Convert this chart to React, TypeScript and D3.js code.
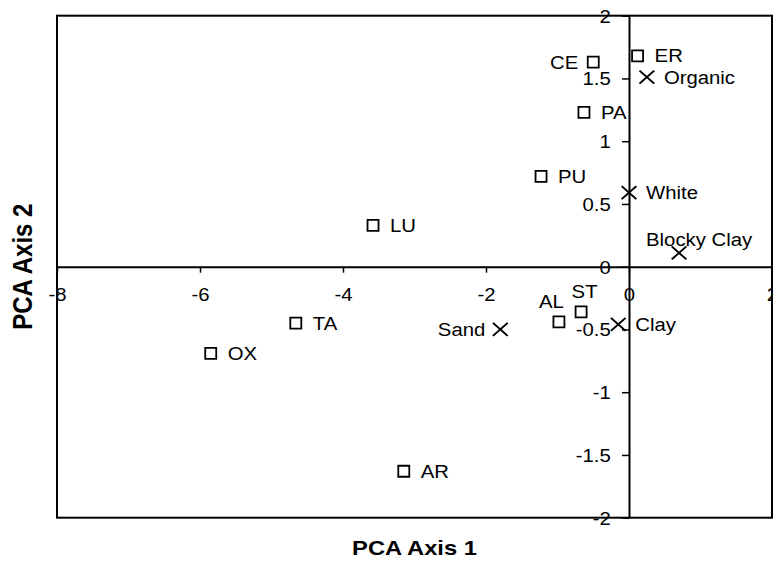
import { useRef, useEffect } from "react";
import * as d3 from "d3";

// sites (open squares)
const siteNames = ["ER", "CE", "PA", "PU", "LU", "TA", "OX", "AR", "AL", "ST"];
const siteX = [0.12, -0.5, -0.63, -1.23, -3.58, -4.66, -5.85, -3.15, -0.98, -0.67];
const siteY = [1.68, 1.63, 1.23, 0.72, 0.33, -0.45, -0.69, -1.63, -0.44, -0.36];

// soil variables (crosses)
const soilNames = ["Organic", "White", "Blocky Clay", "Sand", "Clay"];
const soilX = [0.25, 0.0, 0.7, -1.8, -0.15];
const soilY = [1.51, 0.59, 0.11, -0.5, -0.46];

const xTicks = [-8, -6, -4, -2, 0, 2];
const yTicks = [-2, -1.5, -1, -0.5, 0, 0.5, 1, 1.5, 2];

const W = 773;
const H = 569;
const SX = 1.13; // the original is a little wider than tall
const FONT = "'Liberation Sans', Arial, sans-serif";

export default function App() {
  const svgRef = useRef<SVGSVGElement>(null);

  useEffect(() => {
    if (!svgRef.current) return;
    const svg = d3.select(svgRef.current);
    svg.selectAll("*").remove();

    const x = d3.scaleLinear().domain([-8, 2]).range([57, 772]);
    const y = d3.scaleLinear().domain([-2, 2]).range([517.7, 15.7]);

    // frame
    svg.append("rect")
      .attr("x", x(-8)).attr("y", y(2))
      .attr("width", x(2) - x(-8)).attr("height", y(-2) - y(2))
      .attr("fill", "none").attr("stroke", "#000").attr("stroke-width", 2);

    // axes through the origin
    const gx = svg.append("g")
      .attr("transform", `translate(0,${y(0)})`)
      .call(d3.axisBottom(x).tickValues(xTicks).tickSize(6).tickSizeOuter(0).tickFormat((d) => String(d)));
    gx.selectAll("text")
      .attr("y", 22).attr("dy", "0.71em")
      .attr("transform", `scale(${SX},1)`);

    const gy = svg.append("g")
      .attr("transform", `translate(${x(0)},0)`)
      .call(d3.axisLeft(y).tickValues(yTicks).tickSize(7).tickSizeOuter(0).tickFormat((d) => String(d)));
    gy.selectAll("text")
      .attr("x", -16.2).attr("dy", "0.36em")
      .attr("transform", `scale(${SX},1)`);

    svg.selectAll(".domain").attr("stroke", "#000").attr("stroke-width", 2);
    svg.selectAll(".tick line").attr("stroke", "#000").attr("stroke-width", 1.5);
    svg.selectAll(".tick text")
      .attr("fill", "#000").attr("font-size", 18).attr("font-family", FONT);

    const label = (text: string, px: number, py: number, anchor: string) =>
      svg.append("text")
        .attr("transform", `translate(${px},${py}) scale(${SX},1)`)
        .attr("text-anchor", anchor)
        .attr("font-family", FONT).attr("font-size", 18).attr("fill", "#000")
        .text(text);

    const place = (name: string, px: number, py: number) => {
      if (name === "CE" || name === "Sand") label(name, px - 15, py + 6.4, "end");
      else if (name === "AL") label(name, px + 5, py - 14, "end");
      else if (name === "ST") label(name, px + 3.5, py - 14, "middle");
      else if (name === "Blocky Clay") label(name, px - 33, py - 6.5, "start");
      else label(name, px + 17, py + 6.4, "start");
    };

    const square = d3.symbol(d3.symbolSquare, 121);
    siteNames.forEach((name, i) => {
      const px = x(siteX[i]);
      const py = y(siteY[i]);
      svg.append("path")
        .attr("d", square())
        .attr("transform", `translate(${px},${py})`)
        .attr("fill", "none").attr("stroke", "#000").attr("stroke-width", 1.8);
      place(name, px, py);
    });

    const cross = d3.symbol(d3.symbolX, 112);
    soilNames.forEach((name, i) => {
      const px = x(soilX[i]);
      const py = y(soilY[i]);
      svg.append("path")
        .attr("d", cross())
        .attr("transform", `translate(${px},${py}) scale(${SX},1)`)
        .attr("fill", "none").attr("stroke", "#000").attr("stroke-width", 1.8);
      place(name, px, py);
    });

    // axis titles
    svg.append("text")
      .attr("transform", `translate(${(x(-8) + x(2)) / 2},555) scale(${SX},1)`)
      .attr("text-anchor", "middle")
      .attr("font-family", FONT).attr("font-weight", "bold").attr("font-size", 21)
      .text("PCA Axis 1");

    svg.append("text")
      .attr("transform", `translate(32,${(y(-2) + y(2)) / 2}) scale(${SX},1) rotate(-90)`)
      .attr("text-anchor", "middle")
      .attr("font-family", FONT).attr("font-weight", "bold").attr("font-size", 24)
      .text("PCA Axis 2");
  }, []);

  return (
    <svg
      ref={svgRef}
      width={W}
      height={H}
      style={{ position: "absolute", left: 0, top: 0, background: "#fff" }}
    />
  );
}
